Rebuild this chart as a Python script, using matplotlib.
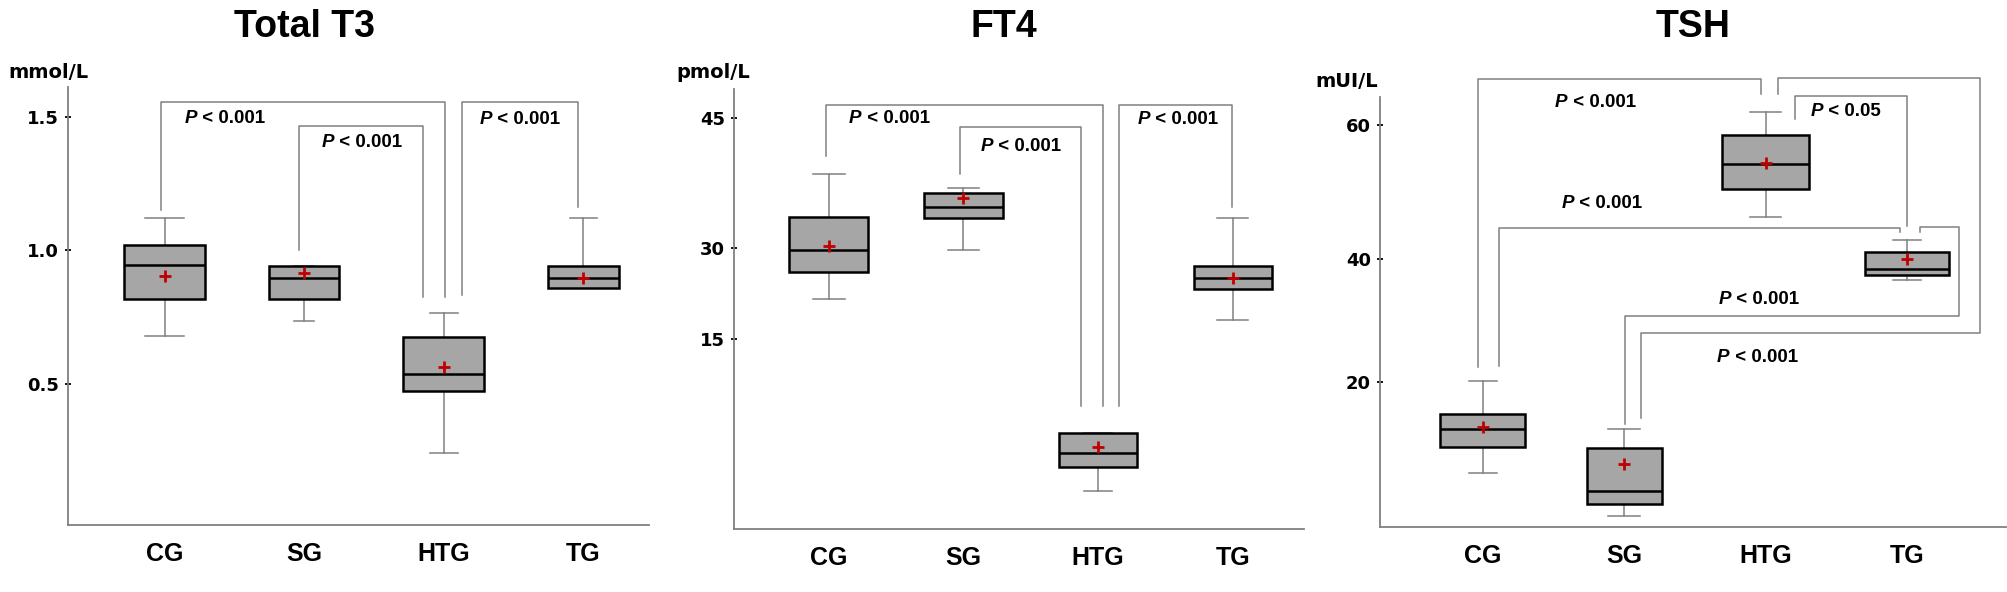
import numpy as np
import matplotlib
matplotlib.use("Agg")
import matplotlib.pyplot as plt

# groups
groups = ["CG", "SG", "HTG", "TG"]

# Total T3 (mmol/L)
t3_lo = [0.678, 0.735, 0.241, 0.859]
t3_q1 = [0.818, 0.818, 0.473, 0.859]
t3_med = [0.944, 0.895, 0.538, 0.895]
t3_q3 = [1.019, 0.941, 0.675, 0.941]
t3_hi = [1.122, 0.941, 0.765, 1.122]
t3_mean = [0.906, 0.917, 0.564, 0.895]

# FT4 (pmol/L)
ft4_lo = [21.65, 29.7, 2.98, 18.1]
ft4_q1 = [26.1, 33.5, 4.86, 23.3]
ft4_med = [29.7, 34.7, 6.0, 25.0]
ft4_q3 = [33.6, 36.3, 7.6, 27.0]
ft4_hi = [38.5, 36.9, 7.6, 33.5]
ft4_mean = [30.3, 35.8, 6.47, 25.0]

# TSH (mUI/L)
tsh_lo = [6.5, 0.0, 46.3, 36.6]
tsh_q1 = [10.3, 1.8, 50.5, 37.4]
tsh_med = [13.1, 3.8, 54.2, 38.4]
tsh_q3 = [15.3, 10.25, 58.5, 41.0]
tsh_hi = [20.2, 13.0, 62.0, 42.8]
tsh_mean = [13.4, 7.8, 54.4, 40.0]

# significance brackets: (xs, ys) polylines and p-value labels (x, y, text)
t3_brackets = [
    ([0.973, 0.973, 3.006, 3.006], [1.153, 1.554, 1.554, 0.825]),
    ([1.963, 1.963, 2.854, 2.854], [1.002, 1.465, 1.465, 0.825]),
    ([3.134, 3.134, 3.96, 3.96], [0.835, 1.554, 1.554, 1.163]),
]
t3_plabels = [(1.146, 1.493, "0.001"), (2.122, 1.404, "0.001"), (3.259, 1.489, "0.001")]

ft4_brackets = [
    ([0.978, 0.978, 3.035, 3.035], [40.6, 46.5, 46.5, 9.69]),
    ([1.975, 1.975, 2.877, 2.877], [38.5, 43.9, 43.9, 9.69]),
    ([3.155, 3.155, 3.994, 3.994], [9.69, 46.5, 46.5, 34.7]),
]
ft4_plabels = [(1.152, 44.9, "0.001"), (2.127, 41.65, "0.001"), (3.297, 44.8, "0.001")]

tsh_brackets = [
    ([0.970, 0.970, 2.97, 2.97], [22.45, 66.95, 66.95, 64.6]),
    ([3.085, 3.085, 4.515, 4.515, 2.12, 2.12], [64.6, 67.1, 67.1, 27.95, 27.95, 14.65]),
    ([3.21, 3.21, 4.0, 4.0], [61.0, 64.4, 64.4, 44.9]),
    ([1.114, 1.114, 3.95, 3.95], [22.6, 44.7, 44.7, 44.0]),
    ([4.09, 4.09, 4.365, 4.365, 2.009, 2.009], [44.0, 44.85, 44.85, 30.83, 30.83, 13.8]),
]
tsh_plabels = [(1.512, 63.4, "0.001"), (1.557, 48.3, "0.001"), (3.319, 62.0, "0.05"),
               (2.666, 33.5, "0.001"), (2.657, 24.1, "0.001")]

BOX_FILL = "#a6a6a6"
LINE_GRAY = "#808080"
MEAN_RED = "#c00000"


def draw_panel(ax, lo, q1, med, q3, hi, mean, widths, capw, brackets, plabels):
    stats = []
    for i in range(len(groups)):
        stats.append(dict(whislo=lo[i], q1=q1[i], med=med[i], q3=q3[i],
                          whishi=hi[i], mean=mean[i], fliers=[]))
    ax.bxp(stats, positions=range(1, 5), widths=widths, capwidths=capw,
           patch_artist=True, showmeans=True, showfliers=False,
           boxprops=dict(facecolor=BOX_FILL, edgecolor="black", linewidth=1.8, zorder=3),
           medianprops=dict(color="black", linewidth=1.8, zorder=4),
           whiskerprops=dict(color=LINE_GRAY, linewidth=1.1),
           capprops=dict(color=LINE_GRAY, linewidth=1.1),
           meanprops=dict(marker="+", markeredgecolor=MEAN_RED, markersize=9,
                          markeredgewidth=2, zorder=5))
    for xs, ys in brackets:
        ax.plot(xs, ys, color=LINE_GRAY, lw=1.1, clip_on=False)
    for x, y, p in plabels:
        t = ax.text(x, y, "P", style="italic", weight="bold", fontsize=13.5,
                    family="Liberation Sans", ha="left", va="center")
        ax.annotate(" < " + p, xy=(1, 0.5), xycoords=t, ha="left", va="center",
                    fontsize=13.5, weight="bold", family="Liberation Sans")

    ax.set_xticks(range(1, 5), groups)
    ax.tick_params(axis="x", length=0, pad=12)
    for lab in ax.get_xticklabels():
        lab.set_fontsize(18)
        lab.set_fontweight("bold")
        lab.set_family("Liberation Sans")
    ax.tick_params(axis="y", direction="inout", length=5, width=1.3, pad=4, color="black")
    for lab in ax.get_yticklabels():
        lab.set_fontsize(13)
        lab.set_fontweight("bold")
        lab.set_family("DejaVu Sans")
    for s in ["top", "right"]:
        ax.spines[s].set_visible(False)
    for s in ["left", "bottom"]:
        ax.spines[s].set_color(LINE_GRAY)
        ax.spines[s].set_linewidth(1.3)


def piecewise_scale(ax, vals, disp):
    vals = np.asarray(vals, float)
    disp = np.asarray(disp, float)
    ax.set_yscale("function",
                  functions=(lambda v: np.interp(v, vals, disp),
                             lambda d: np.interp(d, disp, vals)))


fig = plt.figure(figsize=(20.08, 5.92), dpi=100)

# Total T3
ax1 = fig.add_axes([0.03386, 0.11318, 0.28934, 0.73986])
ax1.set_ylim(-0.028, 1.612)
ax1.set_xlim(0.308, 4.47)
ax1.set_yticks([0.5, 1.0, 1.5], ["0.5", "1.0", "1.5"])
draw_panel(ax1, t3_lo, t3_q1, t3_med, t3_q3, t3_hi, t3_mean,
           [0.58, 0.50, 0.58, 0.51], [0.28, 0.14, 0.20, 0.19],
           t3_brackets, t3_plabels)

# FT4 (axis drawn with uneven tick spacing, as in the original)
ax2 = fig.add_axes([0.36554, 0.10642, 0.28386, 0.74324])
piecewise_scale(ax2, [-15, 0, 15, 30, 45, 75], [-503, 0, 503, 742, 1087, 1777])
ax2.set_ylim(0, 48.3)
ax2.set_xlim(0.297, 4.53)
ax2.set_yticks([15, 30, 45], ["15", "30", "45"])
draw_panel(ax2, ft4_lo, ft4_q1, ft4_med, ft4_q3, ft4_hi, ft4_mean,
           [0.59, 0.59, 0.585, 0.58], [0.24, 0.23, 0.21, 0.23],
           ft4_brackets, ft4_plabels)

# TSH
ax3 = fig.add_axes([0.68725, 0.10980, 0.31175, 0.76351])
piecewise_scale(ax3, [-20, 0, 20, 40, 60, 80], [-327, 28, 383, 710, 1065, 1420])
ax3.set_ylim(-1.58, 67.5)
ax3.set_xlim(0.274, 4.70)
ax3.set_yticks([20, 40, 60], ["20", "40", "60"])
draw_panel(ax3, tsh_lo, tsh_q1, tsh_med, tsh_q3, tsh_hi, tsh_mean,
           [0.60, 0.53, 0.61, 0.60], [0.20, 0.23, 0.22, 0.20],
           tsh_brackets, tsh_plabels)
ax3.spines["left"].set_bounds(-1.58, 64.2)

# titles and units
for x, title in [(0.1514, "Total T3"), (0.5, "FT4"), (0.8431, "TSH")]:
    fig.text(x, 0.9544, title, fontsize=27, weight="bold", family="Liberation Sans",
             ha="center", va="center")
for x, y, unit in [(0.004, 0.878, "mmol/L"), (0.3367, 0.878, "pmol/L"), (0.6549, 0.863, "mUI/L")]:
    fig.text(x, y, unit, fontsize=14, weight="bold", family="DejaVu Sans",
             ha="left", va="center")

fig.savefig("out.png", dpi=100)
